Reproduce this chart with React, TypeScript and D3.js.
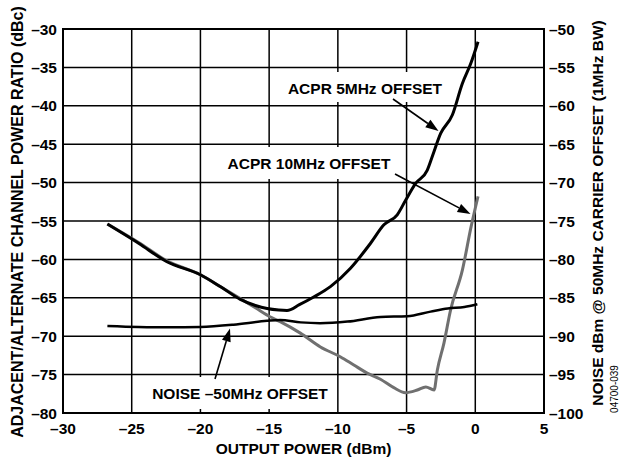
import React from 'react';
import * as d3 from 'd3';

const xTicks = [-30, -25, -20, -15, -10, -5, 0, 5];
const yLeftTicks = [-30, -35, -40, -45, -50, -55, -60, -65, -70, -75, -80];
const yRightTicks = [-50, -55, -60, -65, -70, -75, -80, -85, -90, -95, -100];

const acpr5: [number, number][] = [
  [-26.77, -55.4], [-24.5, -57.9], [-22.44, -60.3], [-20.0, -62.0], [-18.5, -63.6], [-17.1, -65.2],
  [-16.0, -66.0], [-15.15, -66.4], [-14.3, -66.6], [-13.7, -66.65], [-12.8, -65.9], [-11.76, -64.9],
  [-10.54, -63.55], [-9.08, -61.15], [-7.62, -57.9], [-6.65, -55.5], [-5.68, -54.2], [-5.07, -52.3],
  [-4.34, -50.1], [-3.5, -48.4], [-3.13, -46.6], [-2.52, -43.6], [-1.67, -41.2], [-0.94, -37.1],
  [-0.33, -34.5], [0.2, -31.65]
];

const acpr10: [number, number][] = [
  [-26.77, -55.4], [-24.5, -57.8], [-22.44, -60.2], [-20.0, -62.0], [-18.5, -63.6], [-17.1, -65.1],
  [-16.0, -66.3], [-14.9, -67.5], [-14.2, -68.1], [-12.73, -69.6], [-11.27, -71.4], [-9.8, -72.7],
  [-8.84, -73.75], [-7.87, -74.8], [-6.9, -75.6], [-5.93, -76.7], [-5.08, -77.35], [-4.22, -77.0],
  [-3.6, -76.6], [-3.0, -77.0], [-2.76, -74.4], [-2.28, -70.9], [-1.8, -66.6], [-0.94, -61.4],
  [-0.3, -55.7], [0.2, -51.8]
];

const noise: [number, number][] = [
  [-26.77, -88.67], [-24.5, -88.8], [-22.4, -88.85], [-20.0, -88.8], [-17.6, -88.5], [-15.15, -88.0],
  [-14.2, -87.9], [-12.7, -88.2], [-11.3, -88.3], [-9.3, -88.1], [-6.9, -87.5], [-4.95, -87.4],
  [-3.25, -86.8], [-2.0, -86.4], [-0.8, -86.2], [0.15, -85.85]
];

const FONT = 'Liberation Sans, Arial, Helvetica, sans-serif';

export default function App() {
  const L = 63, R = 544, T = 29, B = 413;
  const x = d3.scaleLinear().domain([-30, 5]).range([L, R]);
  const yL = d3.scaleLinear().domain([-80, -30]).range([B, T]);
  const yR = d3.scaleLinear().domain([-100, -50]).range([B, T]);

  const lineL = d3.line<[number, number]>().x(d => x(d[0])).y(d => yL(d[1])).curve(d3.curveMonotoneX);
  const lineR = d3.line<[number, number]>().x(d => x(d[0])).y(d => yR(d[1])).curve(d3.curveMonotoneX);

  const labelStyle = { fontFamily: FONT, fontWeight: 700, fontSize: 15.5, fill: '#000' } as const;

  const arrow = (x1: number, y1: number, x2: number, y2: number, key: string) => {
    const ang = Math.atan2(y2 - y1, x2 - x1);
    const len = 13, w = 4.5;
    const bx = x2 - len * Math.cos(ang), by = y2 - len * Math.sin(ang);
    const px = -Math.sin(ang) * w, py = Math.cos(ang) * w;
    return (
      <g key={key}>
        <line x1={x1} y1={y1} x2={bx} y2={by} stroke="#000" strokeWidth={1.6} />
        <polygon points={`${x2},${y2} ${bx + px},${by + py} ${bx - px},${by - py}`} fill="#000" />
      </g>
    );
  };

  return (
    <svg width={620} height={462} style={{ position: 'absolute', left: 0, top: 0, background: '#fff' }}>
      <rect x={0} y={0} width={620} height={462} fill="#fff" />
      {xTicks.map(t => (
        <line key={'gx' + t} x1={x(t)} x2={x(t)} y1={T} y2={B} stroke="#000" strokeWidth={1.5} />
      ))}
      {yLeftTicks.map(t => (
        <line key={'gy' + t} x1={L} x2={R} y1={yL(t)} y2={yL(t)} stroke="#000" strokeWidth={1.5} />
      ))}
      <rect x={282} y={72} width={168} height={30} fill="#fff" />
      <rect x={221} y={147} width={178} height={32} fill="#fff" />
      <rect x={145} y={377} width={190} height={32} fill="#fff" />
      <rect x={L} y={T} width={R - L} height={B - T} fill="none" stroke="#000" strokeWidth={2} />
      <path d={lineL(acpr10) || ''} fill="none" stroke="#707070" strokeWidth={3} strokeLinejoin="round" />
      <path d={lineL(acpr5) || ''} fill="none" stroke="#000" strokeWidth={3} strokeLinejoin="round" />
      <path d={lineR(noise) || ''} fill="none" stroke="#000" strokeWidth={2.5} strokeLinejoin="round" />
      {yLeftTicks.map(t => (
        <text key={'tl' + t} x={57} y={yL(t)} dy="0.36em" textAnchor="end" style={labelStyle}>
          {'\u2013' + Math.abs(t)}
        </text>
      ))}
      {yRightTicks.map(t => (
        <text key={'tr' + t} x={549} y={yR(t)} dy="0.36em" textAnchor="start" style={labelStyle}>
          {'\u2013' + Math.abs(t)}
        </text>
      ))}
      {xTicks.map(t => (
        <text key={'tx' + t} x={x(t)} y={428} dy="0.36em" textAnchor="middle" style={labelStyle}>
          {t < 0 ? '\u2013' + Math.abs(t) : String(t)}
        </text>
      ))}
      <text x={(L + R) / 2} y={448} dy="0.36em" textAnchor="middle" style={labelStyle}>OUTPUT POWER (dBm)</text>
      <text transform={`translate(17,222) rotate(-90)`} dy="0.36em" textAnchor="middle" style={{ ...labelStyle, fontSize: 16 }}>
        ADJACENT/ALTERNATE CHANNEL POWER RATIO (dBc)
      </text>
      <text transform={`translate(597,213) rotate(-90)`} dy="0.36em" textAnchor="middle" style={labelStyle}>
        NOISE dBm @ 50MHz CARRIER OFFSET (1MHz BW)
      </text>
      <text transform={`translate(614,389) rotate(-90)`} dy="0.36em" textAnchor="middle" style={{ fontFamily: FONT, fontSize: 10, fill: '#000' }}>
        04700-039
      </text>
      <text x={365} y={88} dy="0.36em" textAnchor="middle" style={labelStyle}>ACPR 5MHz OFFSET</text>
      <text x={309} y={163} dy="0.36em" textAnchor="middle" style={labelStyle}>ACPR 10MHz OFFSET</text>
      <text x={240} y={393} dy="0.36em" textAnchor="middle" style={labelStyle}>{'NOISE \u201350MHz OFFSET'}</text>
      {arrow(393, 99, 438.5, 131, 'a1')}
      {arrow(395, 174, 470.5, 214, 'a2')}
      {arrow(215, 379, 230, 328.5, 'a3')}
    </svg>
  );
}
